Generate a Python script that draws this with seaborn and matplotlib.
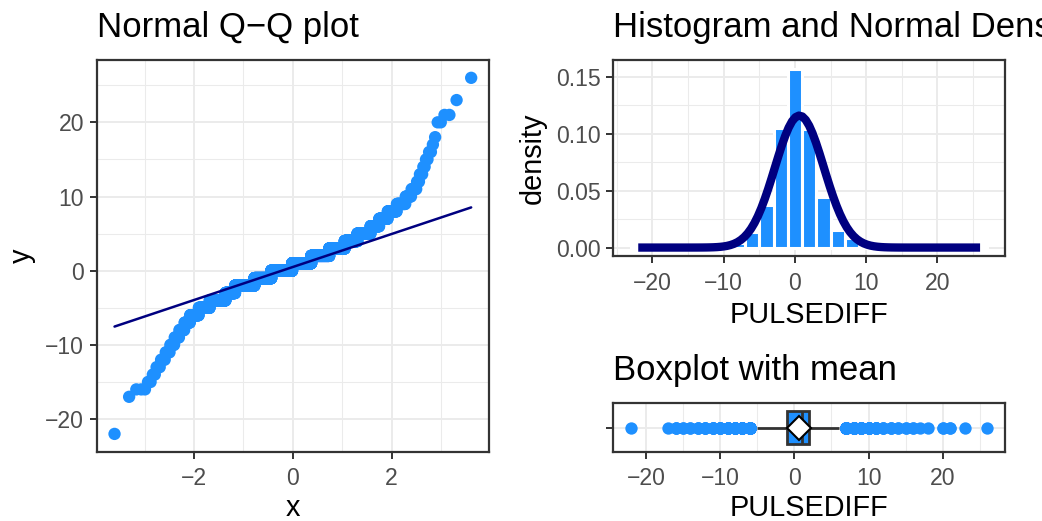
import numpy as np
import matplotlib
matplotlib.use('Agg')
import matplotlib.pyplot as plt
import seaborn as sns
from matplotlib.ticker import MultipleLocator, FormatStrFormatter
from statistics import NormalDist

# PULSEDIFF values (integers) and how often each one occurs
pulse_values = [-22, -17, -16, -15, -14, -13, -12, -11, -10, -9, -8, -7,
                -6, -5, -4, -3, -2, -1, 0, 1, 2, 3, 4, 5, 6, 7, 8, 9,
                10, 11, 12, 13, 14, 15, 16, 17, 18, 20, 21, 23, 26]
pulse_counts = [1, 1, 3, 2, 2, 3, 4, 5, 6, 8, 11, 15,
                32, 58, 132, 114, 318, 370, 535, 495, 408, 275, 168, 124, 58, 42, 32, 21,
                10, 7, 3, 3, 2, 2, 2, 1, 1, 2, 2, 1, 1]

hist_binwidth = 2
titles = ['Normal Q\u2212Q plot', 'Histogram and Normal Density', 'Boxplot with mean']

POINT_COLOR = '#1E90FF'   # dodgerblue
LINE_COLOR = '#000080'    # navy
BORDER = '#333333'
GRID = '#EBEBEB'
TICK_TXT = '#4D4D4D'

sns.set_theme(style='white')
plt.rcParams['font.family'] = ['Liberation Sans', 'DejaVu Sans']
plt.rcParams['axes.unicode_minus'] = True

pulsediff = np.repeat(pulse_values, pulse_counts).astype(float)
n = len(pulsediff)
std_normal = NormalDist()
theoretical = np.array([std_normal.inv_cdf((i - 0.5) / n) for i in range(1, n + 1)])
sample = np.sort(pulsediff)


def style_axes(ax, xmaj, xmin, ymaj=None, ymin=None):
    ax.set_facecolor('white')
    for sp in ax.spines.values():
        sp.set_visible(True)
        sp.set_color(BORDER)
        sp.set_linewidth(1.6)
    ax.xaxis.set_major_locator(MultipleLocator(xmaj))
    ax.xaxis.set_minor_locator(MultipleLocator(xmin))
    if ymaj is not None:
        ax.yaxis.set_major_locator(MultipleLocator(ymaj))
        ax.yaxis.set_minor_locator(MultipleLocator(ymin))
    ax.grid(which='major', color=GRID, linewidth=1.4)
    ax.grid(which='minor', color=GRID, linewidth=0.75)
    ax.set_axisbelow(True)
    ax.tick_params(which='major', length=4.7, width=1.4, color=BORDER,
                   labelsize=16.6, labelcolor=TICK_TXT, bottom=True, left=True)
    ax.tick_params(axis='x', which='major', pad=6.5)
    ax.tick_params(axis='y', which='major', pad=4.5)
    ax.tick_params(which='minor', length=0)


fig = plt.figure(figsize=(10.42, 5.21), dpi=100)
ax_qq = fig.add_axes([0.0928, 0.1330, 0.3765, 0.7518])
ax_hist = fig.add_axes([0.5886, 0.5077, 0.3759, 0.3772])
ax_box = fig.add_axes([0.5886, 0.1330, 0.3759, 0.0929])

# --- Normal Q-Q plot
sns.scatterplot(x=theoretical, y=sample, color=POINT_COLOR, s=79,
                edgecolor='none', linewidth=0, ax=ax_qq, zorder=2)
q1, q3 = np.percentile(pulsediff, [25, 75])
t1, t3 = std_normal.inv_cdf(0.25), std_normal.inv_cdf(0.75)
slope = (q3 - q1) / (t3 - t1)
intercept = q1 - slope * t1
line_x = np.array([theoretical.min(), theoretical.max()])
ax_qq.plot(line_x, intercept + slope * line_x, color=LINE_COLOR, linewidth=1.8, zorder=3)
style_axes(ax_qq, 2, 1, 10, 5)
xr = theoretical.max() - theoretical.min()
ax_qq.set_xlim(theoretical.min() - 0.05 * xr, theoretical.max() + 0.05 * xr)
yr = sample.max() - sample.min()
ax_qq.set_ylim(sample.min() - 0.05 * yr, sample.max() + 0.05 * yr)
ax_qq.set_xlabel('x', fontsize=20.8, color='black', labelpad=2.6)
ax_qq.set_ylabel('y', fontsize=20.8, color='black', labelpad=6.8)
ax_qq.set_title(titles[0], loc='left', fontsize=25, pad=16.8, color='black')

# --- Histogram and normal density
edges = np.arange(pulsediff.min() - 1, pulsediff.max() + 2, hist_binwidth) + 1e-6
sns.histplot(x=pulsediff, bins=edges, stat='density', color=POINT_COLOR, alpha=1,
             edgecolor='white', linewidth=2.2, ax=ax_hist)
dens = NormalDist(pulsediff.mean(), pulsediff.std(ddof=1))
grid_x = np.linspace(pulsediff.min(), pulsediff.max(), 101)
ax_hist.plot(grid_x, [dens.pdf(v) for v in grid_x], color=LINE_COLOR, linewidth=6,
             solid_capstyle='butt', zorder=3)
style_axes(ax_hist, 10, 5, 0.05, 0.025)
ax_hist.yaxis.set_major_formatter(FormatStrFormatter('%.2f'))
top = max(p.get_height() for p in ax_hist.patches)
ax_hist.set_ylim(-0.05 * top, 1.05 * top)
lo, hi = edges[0], edges[-1]
ax_hist.set_xlim(lo - 0.05 * (hi - lo), hi + 0.05 * (hi - lo))
ax_hist.set_xlabel('PULSEDIFF', fontsize=20.8, color='black', labelpad=4.3)
ax_hist.set_ylabel('density', fontsize=20.8, color='black', labelpad=6.8)
ax_hist.set_title(titles[1], loc='left', fontsize=25, pad=16.8, color='black')

# --- Boxplot with mean
sns.boxplot(x=pulsediff, ax=ax_box, color=POINT_COLOR, saturation=1, width=0.8,
            linecolor=BORDER, linewidth=2, whis=1.5, showcaps=False,
            flierprops=dict(marker='o', markerfacecolor=POINT_COLOR,
                            markeredgecolor='none', markersize=8.9),
            medianprops=dict(linewidth=2, color=BORDER),
            showmeans=True,
            meanprops=dict(marker='D', markerfacecolor='white', markeredgecolor='black',
                           markersize=12.2, markeredgewidth=1.5))
style_axes(ax_box, 10, 5)
ax_box.set_yticks([0])
ax_box.set_yticklabels([''])
ax_box.set_ylim(0.6, -0.6)
br = pulsediff.max() - pulsediff.min()
ax_box.set_xlim(pulsediff.min() - 0.05 * br, pulsediff.max() + 0.05 * br)
ax_box.set_xlabel('PULSEDIFF', fontsize=20.8, color='black', labelpad=2.6)
ax_box.set_ylabel('')
ax_box.set_title(titles[2], loc='left', fontsize=25, pad=16.8, color='black')

fig.savefig('out.png', dpi=100, facecolor='white')
